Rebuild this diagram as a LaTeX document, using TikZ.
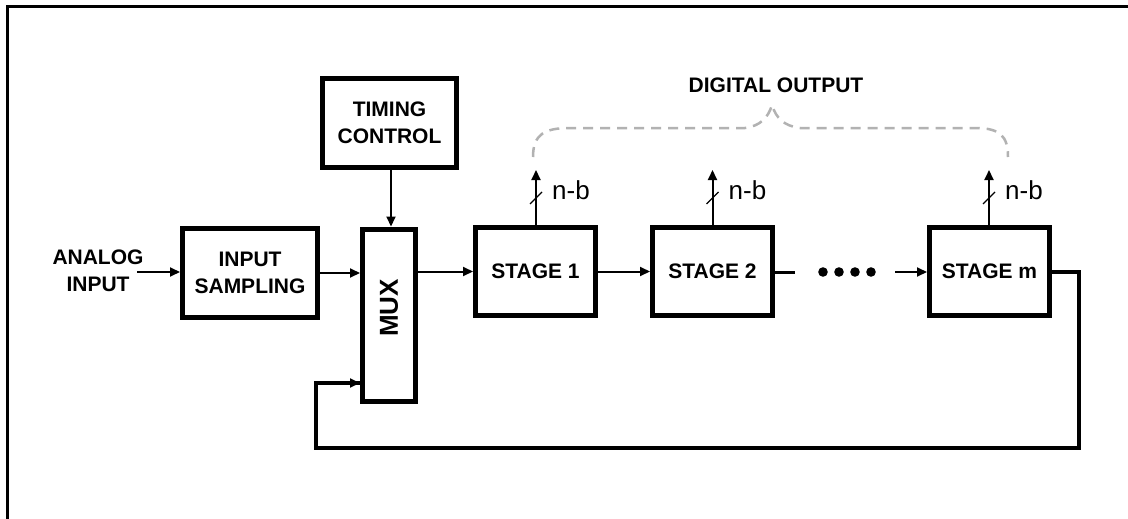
\documentclass[tikz,border=0pt]{standalone}
\usepackage{fontspec}
\setmainfont{Liberation Sans}
\usetikzlibrary{arrows.meta}
\begin{document}
\begin{tikzpicture}[x=1pt,y=-1pt,
  blk/.style={draw, line width=5pt, minimum width=120pt, minimum height=88pt, inner sep=0pt,
    font=\fontsize{21}{27}\selectfont\bfseries, align=center},
  lbl/.style={font=\fontsize{21}{27}\selectfont\bfseries, align=center, inner sep=0pt},
  nb/.style={font=\fontsize{26}{30}\selectfont, inner sep=0pt, anchor=west},
  arr/.style={line width=2pt, -{Triangle[length=10pt,width=9pt]}},
  wire/.style={line width=3.5pt},
  slash/.style={line width=1.3pt},
  brace/.style={draw=black!30, line width=2.5pt, dash pattern=on 10pt off 7pt}
]
\useasboundingbox (0,0) rectangle (1128,519);
\fill[white] (0,0) rectangle (1128,519);
% frame (top and left only)
\draw[line width=3pt] (1128,7) -- (7,7) -- (7,519);

% blocks
\node[blk, minimum width=134pt, minimum height=89pt] (tc) at (389.5,123) {TIMING\\CONTROL};
\node[blk, minimum width=135pt, minimum height=89pt] (is) at (250,273) {INPUT\\SAMPLING};
\node[blk, minimum width=53pt, minimum height=172pt] (mux) at (389,315) {};
\node[lbl, rotate=90, font=\fontsize{26}{30}\selectfont\bfseries] (muxl) at (389,308) {MUX};
\node[blk] (s1) at (535.5,271.5) {STAGE 1};
\node[blk] (s2) at (712.5,271.5) {STAGE 2};
\node[blk] (sm) at (989.5,271.5) {STAGE m};

% input
\node[lbl] (ai) at (98,271) {ANALOG\\INPUT};
\coordinate (aiend) at (137,272);
\draw[arr] (aiend) -- (is.west |- aiend);
\draw[arr] (is.east) -- (is.east -| mux.west);
\draw[arr] (tc.south -| 391,0) -- (mux.north -| 391,0);
\draw[arr] (s1.west -| mux.east) -- (s1.west);
\draw[arr] (s1.east) -- (s2.west);

% stage 2 stub, dots, arrow into stage m
\coordinate (stub) at (795,272);
\draw[line width=3pt] (s2.east |- stub) -- (stub);
\foreach \x [count=\i] in {823,839,855,871}
  \fill (\x,272) circle (4.8pt) coordinate (d\i);
\coordinate (dmend) at (895,272);
\draw[arr] (dmend) -- (sm.west |- dmend);

% feedback loop
\coordinate (fb1) at (1079,272);
\coordinate (fb2) at (1079,448);
\coordinate (fb3) at (316,448);
\coordinate (fb4) at (316,383);
\draw[wire, line join=miter] (sm.east |- fb1) -- (fb1) -- (fb2) -- (fb3) -- (fb4) -- (fb4 -| mux.west);
\draw[arr] (fb4) -- (fb4 -| mux.west);

% outputs
\foreach \s/\xx in {s1/536, s2/712.5, sm/989} {
  \coordinate (\s top) at (\xx,170);
  \draw[arr] (\s.north -| \s top) -- (\s top);
  \draw[slash] (\xx-6,204) -- (\xx+6,192);
  \node[nb] (\s nb) at (\xx+16,190) {n-b};
}

% digital output brace
\node[lbl] (dout) at (776,85) {DIGITAL OUTPUT};
\draw[brace] (533,157) .. controls (533,134) and (545,128) .. (570,128) -- (745,128)
  .. controls (760,126) and (768,118) .. (772,105)
  .. controls (776,118) and (784,126) .. (800,128) -- (975,128)
  .. controls (1000,128) and (1008,136) .. (1008,157);
\end{tikzpicture}
\end{document}
